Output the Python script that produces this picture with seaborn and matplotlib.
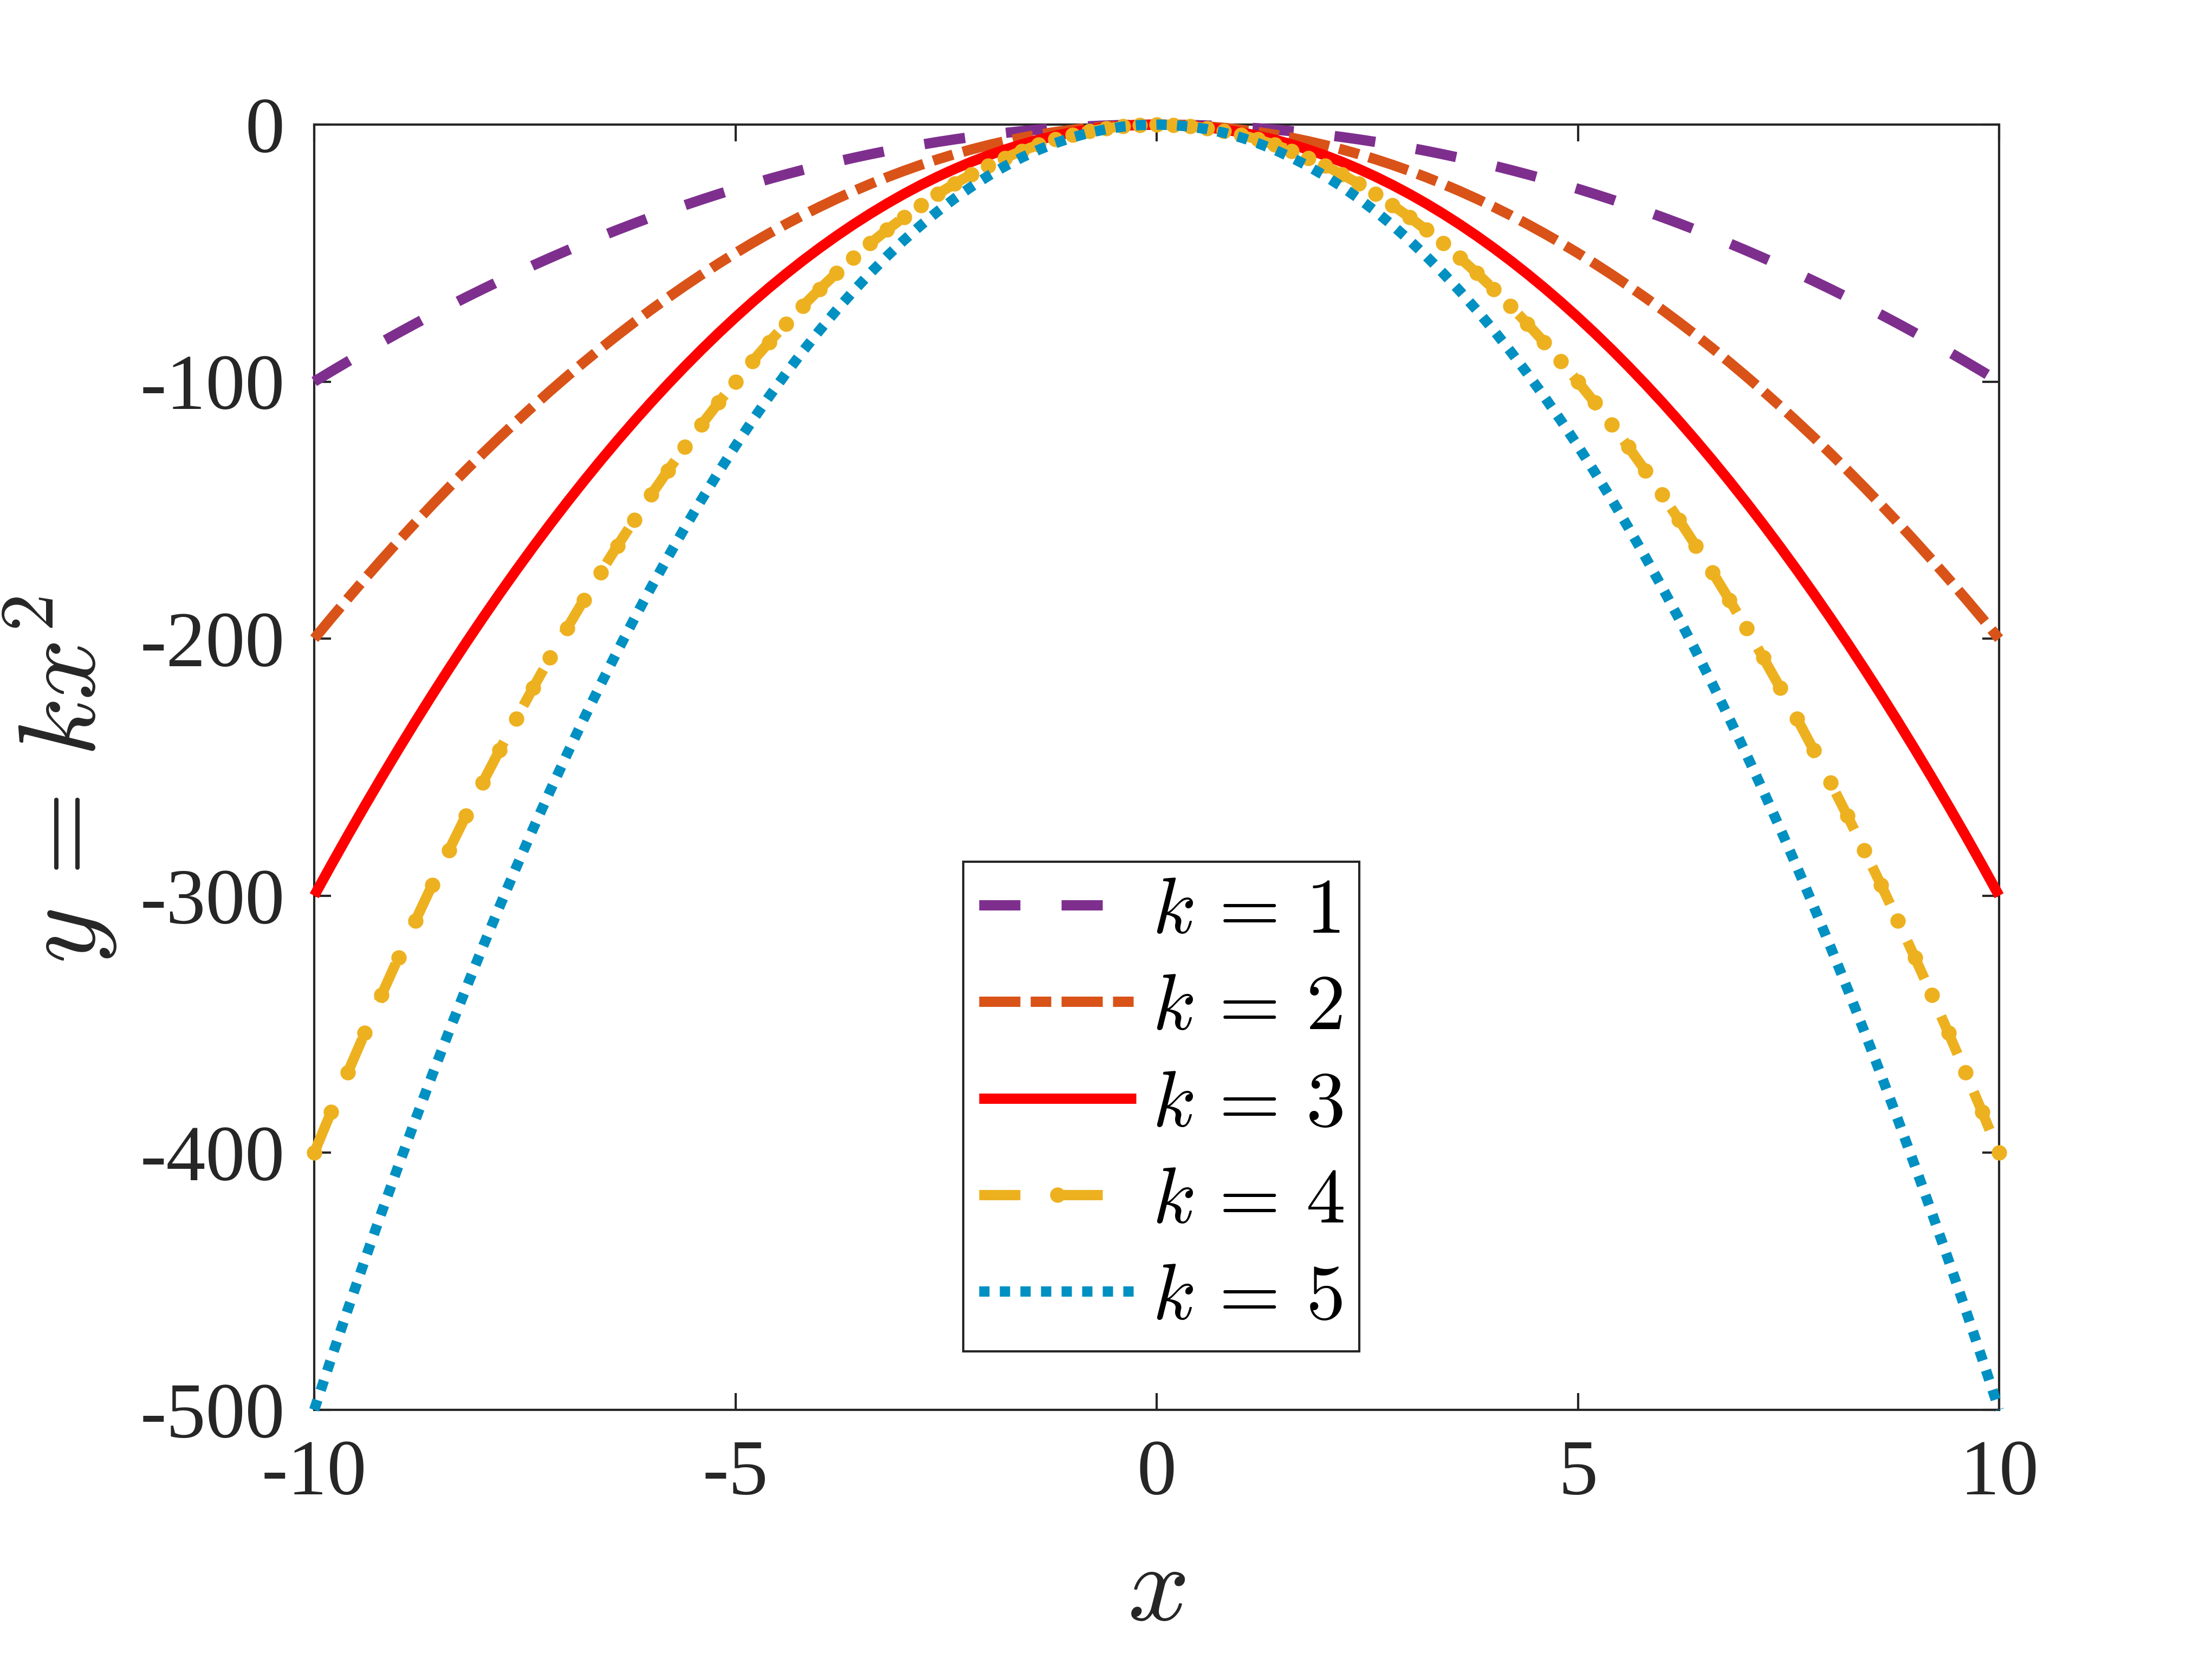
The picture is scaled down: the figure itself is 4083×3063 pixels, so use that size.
import matplotlib
matplotlib.use("Agg")
import matplotlib.pyplot as plt
import seaborn as sns
import pandas as pd

# ---------------- data ----------------
x_vals = [-10, -9.8, -9.6, -9.4, -9.2, -9, -8.8, -8.6, -8.4, -8.2,
          -8, -7.8, -7.6, -7.4, -7.2, -7, -6.8, -6.6, -6.4, -6.2,
          -6, -5.8, -5.6, -5.4, -5.2, -5, -4.8, -4.6, -4.4, -4.2,
          -4, -3.8, -3.6, -3.4, -3.2, -3, -2.8, -2.6, -2.4, -2.2,
          -2, -1.8, -1.6, -1.4, -1.2, -1, -0.8, -0.6, -0.4, -0.2,
          0,
          0.2, 0.4, 0.6, 0.8, 1, 1.2, 1.4, 1.6, 1.8, 2,
          2.2, 2.4, 2.6, 2.8, 3, 3.2, 3.4, 3.6, 3.8, 4,
          4.2, 4.4, 4.6, 4.8, 5, 5.2, 5.4, 5.6, 5.8, 6,
          6.2, 6.4, 6.6, 6.8, 7, 7.2, 7.4, 7.6, 7.8, 8,
          8.2, 8.4, 8.6, 8.8, 9, 9.2, 9.4, 9.6, 9.8, 10]

y_k1 = [-100, -96.04, -92.16, -88.36, -84.64, -81, -77.44, -73.96, -70.56, -67.24,
        -64, -60.84, -57.76, -54.76, -51.84, -49, -46.24, -43.56, -40.96, -38.44,
        -36, -33.64, -31.36, -29.16, -27.04, -25, -23.04, -21.16, -19.36, -17.64,
        -16, -14.44, -12.96, -11.56, -10.24, -9, -7.84, -6.76, -5.76, -4.84,
        -4, -3.24, -2.56, -1.96, -1.44, -1, -0.64, -0.36, -0.16, -0.04,
        0,
        -0.04, -0.16, -0.36, -0.64, -1, -1.44, -1.96, -2.56, -3.24, -4,
        -4.84, -5.76, -6.76, -7.84, -9, -10.24, -11.56, -12.96, -14.44, -16,
        -17.64, -19.36, -21.16, -23.04, -25, -27.04, -29.16, -31.36, -33.64, -36,
        -38.44, -40.96, -43.56, -46.24, -49, -51.84, -54.76, -57.76, -60.84, -64,
        -67.24, -70.56, -73.96, -77.44, -81, -84.64, -88.36, -92.16, -96.04, -100]

y_k2 = [-200, -192.08, -184.32, -176.72, -169.28, -162, -154.88, -147.92, -141.12, -134.48,
        -128, -121.68, -115.52, -109.52, -103.68, -98, -92.48, -87.12, -81.92, -76.88,
        -72, -67.28, -62.72, -58.32, -54.08, -50, -46.08, -42.32, -38.72, -35.28,
        -32, -28.88, -25.92, -23.12, -20.48, -18, -15.68, -13.52, -11.52, -9.68,
        -8, -6.48, -5.12, -3.92, -2.88, -2, -1.28, -0.72, -0.32, -0.08,
        0,
        -0.08, -0.32, -0.72, -1.28, -2, -2.88, -3.92, -5.12, -6.48, -8,
        -9.68, -11.52, -13.52, -15.68, -18, -20.48, -23.12, -25.92, -28.88, -32,
        -35.28, -38.72, -42.32, -46.08, -50, -54.08, -58.32, -62.72, -67.28, -72,
        -76.88, -81.92, -87.12, -92.48, -98, -103.68, -109.52, -115.52, -121.68, -128,
        -134.48, -141.12, -147.92, -154.88, -162, -169.28, -176.72, -184.32, -192.08, -200]

y_k3 = [-300, -288.12, -276.48, -265.08, -253.92, -243, -232.32, -221.88, -211.68, -201.72,
        -192, -182.52, -173.28, -164.28, -155.52, -147, -138.72, -130.68, -122.88, -115.32,
        -108, -100.92, -94.08, -87.48, -81.12, -75, -69.12, -63.48, -58.08, -52.92,
        -48, -43.32, -38.88, -34.68, -30.72, -27, -23.52, -20.28, -17.28, -14.52,
        -12, -9.72, -7.68, -5.88, -4.32, -3, -1.92, -1.08, -0.48, -0.12,
        0,
        -0.12, -0.48, -1.08, -1.92, -3, -4.32, -5.88, -7.68, -9.72, -12,
        -14.52, -17.28, -20.28, -23.52, -27, -30.72, -34.68, -38.88, -43.32, -48,
        -52.92, -58.08, -63.48, -69.12, -75, -81.12, -87.48, -94.08, -100.92, -108,
        -115.32, -122.88, -130.68, -138.72, -147, -155.52, -164.28, -173.28, -182.52, -192,
        -201.72, -211.68, -221.88, -232.32, -243, -253.92, -265.08, -276.48, -288.12, -300]

y_k4 = [-400, -384.16, -368.64, -353.44, -338.56, -324, -309.76, -295.84, -282.24, -268.96,
        -256, -243.36, -231.04, -219.04, -207.36, -196, -184.96, -174.24, -163.84, -153.76,
        -144, -134.56, -125.44, -116.64, -108.16, -100, -92.16, -84.64, -77.44, -70.56,
        -64, -57.76, -51.84, -46.24, -40.96, -36, -31.36, -27.04, -23.04, -19.36,
        -16, -12.96, -10.24, -7.84, -5.76, -4, -2.56, -1.44, -0.64, -0.16,
        0,
        -0.16, -0.64, -1.44, -2.56, -4, -5.76, -7.84, -10.24, -12.96, -16,
        -19.36, -23.04, -27.04, -31.36, -36, -40.96, -46.24, -51.84, -57.76, -64,
        -70.56, -77.44, -84.64, -92.16, -100, -108.16, -116.64, -125.44, -134.56, -144,
        -153.76, -163.84, -174.24, -184.96, -196, -207.36, -219.04, -231.04, -243.36, -256,
        -268.96, -282.24, -295.84, -309.76, -324, -338.56, -353.44, -368.64, -384.16, -400]

y_k5 = [-500, -480.2, -460.8, -441.8, -423.2, -405, -387.2, -369.8, -352.8, -336.2,
        -320, -304.2, -288.8, -273.8, -259.2, -245, -231.2, -217.8, -204.8, -192.2,
        -180, -168.2, -156.8, -145.8, -135.2, -125, -115.2, -105.8, -96.8, -88.2,
        -80, -72.2, -64.8, -57.8, -51.2, -45, -39.2, -33.8, -28.8, -24.2,
        -20, -16.2, -12.8, -9.8, -7.2, -5, -3.2, -1.8, -0.8, -0.2,
        0,
        -0.2, -0.8, -1.8, -3.2, -5, -7.2, -9.8, -12.8, -16.2, -20,
        -24.2, -28.8, -33.8, -39.2, -45, -51.2, -57.8, -64.8, -72.2, -80,
        -88.2, -96.8, -105.8, -115.2, -125, -135.2, -145.8, -156.8, -168.2, -180,
        -192.2, -204.8, -217.8, -231.2, -245, -259.2, -273.8, -288.8, -304.2, -320,
        -336.2, -352.8, -369.8, -387.2, -405, -423.2, -441.8, -460.8, -480.2, -500]

series_labels = [r"$k\,=\,1$", r"$k\,=\,2$", r"$k\,=\,3$", r"$k\,=\,4$", r"$k\,=\,5$"]
series_values = [y_k1, y_k2, y_k3, y_k4, y_k5]

x_ticks = [-10, -5, 0, 5, 10]
x_tick_labels = ["-10", "-5", "0", "5", "10"]
y_ticks = [-500, -400, -300, -200, -100, 0]
y_tick_labels = ["-500", "-400", "-300", "-200", "-100", "0"]

# ---------------- style ----------------
sns.set_style("ticks")
plt.rcParams["font.family"] = ["Liberation Serif", "DejaVu Serif"]
plt.rcParams["mathtext.fontset"] = "cm"

colors = ["#7E2F8E", "#D95319", "#FF0000", "#EDB120", "#0090C2"]
styles = [(0, (4, 4)), (0, (4, 1, 2, 1)), "-", (0, (4, 4)), (0, (1, 1))]
markers = [None, None, None, "o", None]
axis_col = "#262626"
LW = 4.56

fig = plt.figure(figsize=(4083 / 300, 3063 / 300), dpi=300)
ax = fig.add_axes([580 / 4083, 1 - 2603 / 3063, 3110 / 4083, 2373 / 3063])

for lab, yv, c, ls, mk in zip(series_labels, series_values, colors, styles, markers):
    df = pd.DataFrame({"x": x_vals, "y": yv})
    kw = dict(color=c, linestyle=ls, linewidth=LW, label=lab,
              estimator=None, sort=False, ax=ax, legend=False)
    if mk:
        kw.update(marker=mk, markersize=6.8, markeredgewidth=0, markerfacecolor=c)
    sns.lineplot(data=df, x="x", y="y", **kw)

for ln in ax.get_lines():
    ln.set_clip_on(False)
    ln.set_zorder(3)
    ln.set_solid_capstyle("butt")
    ln.set_dash_capstyle("butt")

ax.set_xlim(-10, 10)
ax.set_ylim(-500, 0)
ax.set_xticks(x_ticks)
ax.set_xticklabels(x_tick_labels)
ax.set_yticks(y_ticks)
ax.set_yticklabels(y_tick_labels)

for sp in ax.spines.values():
    sp.set_visible(True)
    sp.set_color(axis_col)
    sp.set_linewidth(1.0)
ax.tick_params(axis="both", which="major", direction="in", length=7.4, width=1.0,
               colors=axis_col, labelsize=35, pad=13,
               top=True, right=True, labelcolor=axis_col)

ax.set_xlabel(r"$x$", fontsize=48, color=axis_col)
ax.set_ylabel(r"$y\,=\,kx^2$", fontsize=48, color=axis_col)
ax.xaxis.set_label_coords(0.5, -0.105)
ax.yaxis.set_label_coords(-0.116, 0.49)

leg = ax.legend(loc="upper left", bbox_to_anchor=(0.3852, 0.4265), borderaxespad=0,
                fontsize=35, handlelength=1.99, handletextpad=0.2, borderpad=0.2,
                labelspacing=0.31, fancybox=False, framealpha=1, edgecolor=axis_col)
leg.get_frame().set_linewidth(1.0)
for t in leg.get_texts():
    t.set_color("black")

fig.savefig("out.png", dpi=300)
